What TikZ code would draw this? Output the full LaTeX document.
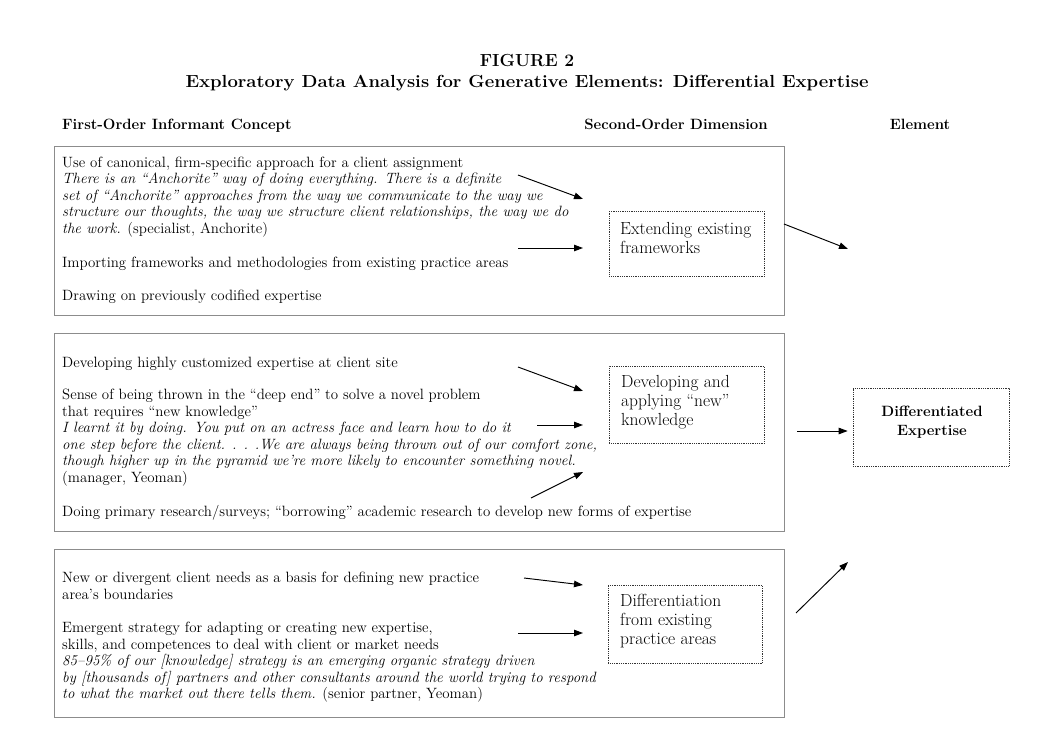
\documentclass[tikz,border=0pt]{standalone}
\usetikzlibrary{arrows.meta}
\begin{document}
\begin{tikzpicture}[x=1pt,y=-1pt,
  body/.style={font=\fontsize{14.9}{16.6}\selectfont, align=left, inner sep=0pt, anchor=base west},
  hdr/.style={font=\fontsize{14.9}{17}\selectfont\bfseries, inner sep=0pt, anchor=base},
  ttl/.style={font=\fontsize{17.5}{20}\selectfont\bfseries, inner sep=0pt, anchor=base},
  group/.style={draw=black!45, line width=0.6pt},
  dimbox/.style={draw=black!80, line width=0.7pt, dash pattern=on 0.9pt off 0.9pt, inner sep=0pt},
  dimtext/.style={font=\fontsize{17.5}{19}\selectfont, align=left, inner sep=0pt, anchor=base west},
  arr/.style={-{Triangle[length=9pt,width=6.5pt]}, line width=0.95pt}]
\useasboundingbox (0,0) rectangle (1039,747);

% titles
\node (fig) [ttl] at (527,66) {FIGURE 2};
\node (sub) [ttl] at (527,87) {\resizebox{683pt}{\height}{Exploratory Data Analysis for Generative Elements: Differential Expertise}};
\node (h1) [hdr, anchor=base west] at (62,129) {First-Order Informant Concept};
\node (h2) [hdr] at (676,129) {Second-Order Dimension};
\node (h3) [hdr] at (920,129) {Element};

% group boxes
\node (g1) [group, inner sep=0pt, minimum width=730pt, minimum height=169pt, anchor=north west] at (54,146) {};
\node (g2) [group, inner sep=0pt, minimum width=730pt, minimum height=198pt, anchor=north west] at (54,333) {};
\node (g3) [group, inner sep=0pt, minimum width=730pt, minimum height=168pt, anchor=north west] at (54,549) {};

% box 1 texts (anchored at the baseline of the last line)
\node (t11) [body] at (62,233.4) {Use of canonical, firm-specific approach for a client assignment\\
\textit{There is an “Anchorite” way of doing everything. There is a definite}\\
\textit{set of “Anchorite” approaches from the way we communicate to the way we}\\
\textit{structure our thoughts, the way we structure client relationships, the way we do}\\
\textit{the work.} (specialist, Anchorite)};
\node (t12) [body] at (62,267) {Importing frameworks and methodologies from existing practice areas};
\node (t13) [body] at (62,300.5) {Drawing on previously codified expertise};

% box 2 texts
\node (t21) [body] at (62,367) {Developing highly customized expertise at client site};
\node (t22) [body] at (62,482.5) {Sense of being thrown in the “deep end” to solve a novel problem\\
that requires “new knowledge”\\
\textit{I learnt it by doing. You put on an actress face and learn how to do it}\\
\textit{one step before the client. . . .We are always being thrown out of our comfort zone,}\\
\textit{though higher up in the pyramid we’re more likely to encounter something novel.}\\
(manager, Yeoman)};
\node (t23) [body] at (62,516) {Doing primary research/surveys; “borrowing” academic research to develop new forms of expertise};

% box 3 texts
\node (t31) [body] at (62,599.1) {New or divergent client needs as a basis for defining new practice\\
area’s boundaries};
\node (t32) [body] at (62,698.9) {Emergent strategy for adapting or creating new expertise,\\
skills, and competences to deal with client or market needs\\
\textit{85–95\% of our [knowledge] strategy is an emerging organic strategy driven}\\
\textit{by [thousands of] partners and other consultants around the world trying to respond}\\
\textit{to what the market out there tells them.} (senior partner, Yeoman)};

% second-order boxes
\node (d1) [dimbox, minimum width=155pt, minimum height=65pt, anchor=north west] at (609,211) {};
\node (d1t) [dimtext] at (620,253) {Extending existing\\frameworks};
\node (d2) [dimbox, minimum width=155pt, minimum height=77pt, anchor=north west] at (609,366) {};
\node (d2t) [dimtext] at (621,425) {Developing and\\applying “new”\\knowledge};
\node (d3) [dimbox, minimum width=154pt, minimum height=78pt, anchor=north west] at (608,585) {};
\node (d3t) [dimtext] at (620,644) {Differentiation\\from existing\\practice areas};

% element box
\node (el) [dimbox, minimum width=156pt, minimum height=78pt] at (931,427) {};
\node (elt) [font=\fontsize{14.9}{19}\selectfont\bfseries, align=center, inner sep=0pt, anchor=base] at (932,435) {Differentiated\\Expertise};

% arrow endpoints
\coordinate (a1s) at (518,175); \coordinate (a1e) at (583,199);
\coordinate (a2s) at (518,248); \coordinate (a2e) at (583,248);
\coordinate (a3s) at (784,224); \coordinate (a3e) at (848,249);
\coordinate (b1s) at (518,367); \coordinate (b1e) at (583,391);
\coordinate (b2s) at (537,425); \coordinate (b2e) at (583,425);
\coordinate (b3s) at (531,498); \coordinate (b3e) at (583,472);
\coordinate (e2s) at (797,431);
\coordinate (c1s) at (524,578); \coordinate (c1e) at (583,585);
\coordinate (c2s) at (518,633); \coordinate (c2e) at (583,633);
\coordinate (e3s) at (796,613); \coordinate (e3e) at (848,562);

\draw[arr] (a1s) -- (a1e);
\draw[arr] (a2s) -- (a2e);
\draw[arr] (a3s) -- (a3e);
\draw[arr] (b1s) -- (b1e);
\draw[arr] (b2s) -- (b2e);
\draw[arr] (b3s) -- (b3e);
\draw[arr, shorten >=5pt] (e2s) -- (el.west |- e2s);
\draw[arr] (c1s) -- (c1e);
\draw[arr] (c2s) -- (c2e);
\draw[arr] (e3s) -- (e3e);
\end{tikzpicture}
\end{document}
